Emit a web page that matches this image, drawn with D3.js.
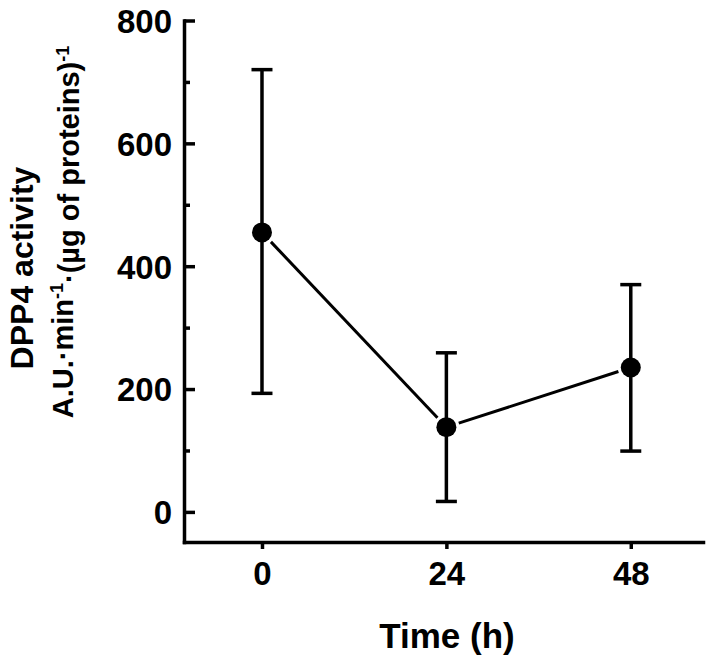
<!DOCTYPE html>
<html lang="en">

<head>
  <meta charset="utf-8">
  <title>DPP4 activity</title>
  <script type="text/javascript" src="https://d3js.org/d3.v7.min.js"></script>
  <style>
    body { margin: 0; background: #fff; }
    text { font-family: "Liberation Sans", Arial, sans-serif; font-weight: bold; fill: #000; }
    .axis path, .axis line { stroke: #000; stroke-width: 3.5; }
    .axis text { font-size: 33px; }
  </style>
</head>

<body>

  <div id="container"></div>

  <script type="text/javascript">
    // data
    var times = [0, 24, 48];
    var means = [455, 138, 235];
    var upper = [720, 259, 370];
    var lower = [193, 17, 99];

    var yTicks = [0, 200, 400, 600, 800];
    var yMinor = [100, 300, 500, 700];
    var xTicks = [0, 24, 48];

    var w = 708;
    var h = 659;

    var svg = d3.select("div#container")
      .append("svg")
      .attr("width", w)
      .attr("height", h);

    var x = d3.scaleLinear()
      .domain([-10.15, 57.4])
      .range([184, 703]);

    var y = d3.scaleLinear()
      .domain([-49, 800])
      .range([542, 20.5]);

    // y axis (ticks point inward)
    svg.append("g")
      .attr("class", "axis")
      .attr("transform", "translate(184,0)")
      .call(d3.axisLeft(y).tickValues(yTicks).tickSizeInner(-11).tickSizeOuter(0).tickPadding(12))
      .call(function(g) { g.selectAll("text").attr("dy", "0.36em"); });

    svg.append("g")
      .attr("class", "axis")
      .attr("transform", "translate(184,0)")
      .call(d3.axisLeft(y).tickValues(yMinor).tickSizeInner(-6).tickSizeOuter(0).tickFormat(""))
      .call(function(g) { g.select(".domain").remove(); });

    // x axis (ticks point outward)
    svg.append("g")
      .attr("class", "axis")
      .attr("transform", "translate(0,542)")
      .call(d3.axisBottom(x).tickValues(xTicks).tickSizeInner(7).tickSizeOuter(0).tickPadding(13));

    svg.selectAll(".axis .domain").attr("stroke-linecap", "square");

    var pts = times.map(function(t, i) {
      return { t: t, m: means[i], hi: upper[i], lo: lower[i] };
    });

    // error bars
    var bars = svg.append("g").attr("stroke", "#000").attr("stroke-width", 3.5);

    bars.selectAll(".err")
      .data(pts)
      .enter()
      .append("line")
      .attr("x1", function(d) { return x(d.t); })
      .attr("x2", function(d) { return x(d.t); })
      .attr("y1", function(d) { return y(d.lo); })
      .attr("y2", function(d) { return y(d.hi); });

    ["hi", "lo"].forEach(function(k) {
      bars.selectAll(".cap-" + k)
        .data(pts)
        .enter()
        .append("line")
        .attr("x1", function(d) { return x(d.t) - 10.5; })
        .attr("x2", function(d) { return x(d.t) + 10.5; })
        .attr("y1", function(d) { return y(d[k]); })
        .attr("y2", function(d) { return y(d[k]); });
    });

    // connecting line, stopping short of the markers
    var r = 10, gap = 3;
    for (var i = 0; i < pts.length - 1; i++) {
      var x0 = x(pts[i].t), y0 = y(pts[i].m);
      var x1 = x(pts[i + 1].t), y1 = y(pts[i + 1].m);
      var len = Math.hypot(x1 - x0, y1 - y0);
      var ux = (x1 - x0) / len, uy = (y1 - y0) / len;
      svg.append("line")
        .attr("x1", x0 + ux * (r + gap))
        .attr("y1", y0 + uy * (r + gap))
        .attr("x2", x1 - ux * (r + gap))
        .attr("y2", y1 - uy * (r + gap))
        .attr("stroke", "#000")
        .attr("stroke-width", 3);
    }

    svg.selectAll("circle")
      .data(pts)
      .enter()
      .append("circle")
      .attr("cx", function(d) { return x(d.t); })
      .attr("cy", function(d) { return y(d.m); })
      .attr("r", r)
      .attr("fill", "#000");

    // axis titles
    svg.append("text")
      .attr("x", 447)
      .attr("y", 648)
      .attr("text-anchor", "middle")
      .style("font-size", "35px")
      .text("Time (h)");

    svg.append("text")
      .attr("transform", "translate(33,268) rotate(-90)")
      .attr("text-anchor", "middle")
      .style("font-size", "32px")
      .text("DPP4 activity");

    var l2 = svg.append("text")
      .attr("transform", "translate(73,232) rotate(-90)")
      .attr("text-anchor", "middle")
      .style("font-size", "29px");
    l2.append("tspan").text("A.U.\u00b7min");
    l2.append("tspan").attr("dy", "-0.55em").style("font-size", "18px").text("-1");
    l2.append("tspan").attr("dy", "0.55em").text("\u00b7(\u00b5g of proteins)");
    l2.append("tspan").attr("dy", "-0.55em").style("font-size", "18px").text("-1");
  </script>

</body>

</html>
